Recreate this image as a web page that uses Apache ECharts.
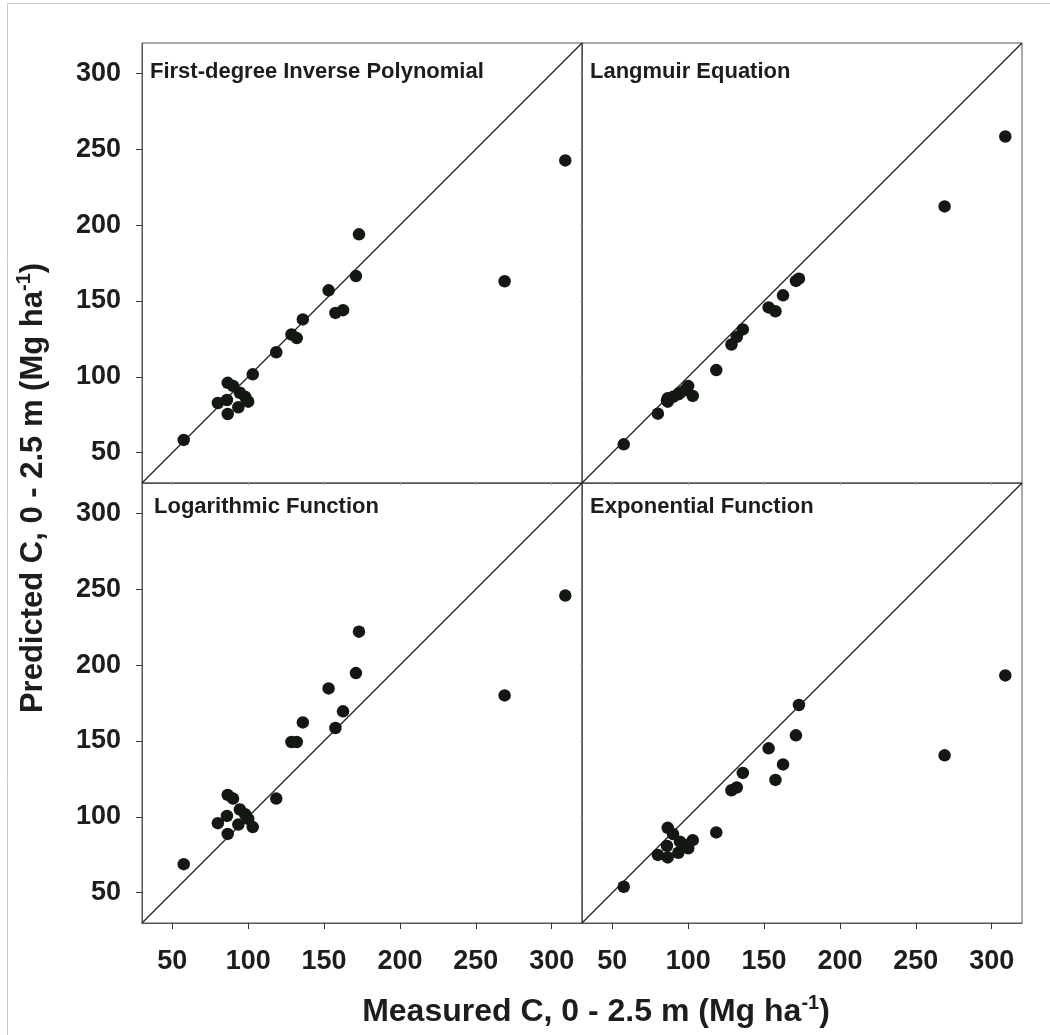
<!DOCTYPE html>
<html>
<head>
<meta charset="utf-8">
<script src="https://cdn.jsdelivr.net/npm/echarts@6/dist/echarts.min.js"></script>
<style>
  html, body { margin: 0; padding: 0; background: #fff; }
  #chart { width: 1050px; height: 1035px; }
</style>
</head>
<body>
<div id="chart"></div>
<script>
// measured carbon (x), shared by all four panels
var measured = [57.5, 80, 86.5, 86, 86.5, 90, 93.5, 94.5, 98, 100, 103, 118.5, 128.5, 132, 136, 153, 157.5, 162.5, 171, 173, 269, 309];

// predicted carbon for each model
var inversePoly = [58.4, 82.7, 75.5, 84.7, 96, 94, 79.9, 89.5, 86.8, 83.6, 101.6, 116.2, 127.9, 125.5, 137.8, 157, 142.1, 143.9, 166.4, 193.9, 163, 242.6];
var langmuir = [55.5, 75.7, 83.6, 84.5, 85.8, 86.8, 88.5, 89.5, 91.2, 93.9, 87.4, 104.4, 121.3, 126.3, 131.2, 145.7, 143.2, 153.7, 163.2, 164.7, 212.3, 258.4];
var logarithmic = [68.8, 95.8, 88.7, 100.6, 114.4, 112, 94.9, 104.8, 101.7, 98.6, 93.2, 112, 149.3, 149.3, 162.2, 184.6, 158.5, 169.5, 194.7, 222, 180, 245.8];
var exponential = [53.9, 74.9, 73.2, 80.8, 92.7, 88.6, 76.3, 83.6, 81.4, 79.2, 84.6, 89.7, 117.5, 119.3, 128.9, 145.1, 124.3, 134.5, 153.7, 173.7, 140.5, 193.2];

var panelNames = ['First-degree Inverse Polynomial', 'Langmuir Equation', 'Logarithmic Function', 'Exponential Function'];
var tickValues = [50, 100, 150, 200, 250, 300];
var axisRange = [30, 320];   // 1:1 line runs corner to corner

var font = '"Liberation Sans", Arial, sans-serif';
var ink = '#1b1f1c';

var panels = [inversePoly, langmuir, logarithmic, exponential];
var gridPos = [
    { left: 142, top: 43 },
    { left: 582, top: 43 },
    { left: 142, top: 483 },
    { left: 582, top: 483 }
];

function makeAxis(i, outer) {
    return {
        type: 'value',
        gridIndex: i,
        min: axisRange[0],
        max: axisRange[1],
        axisLine: { show: true, lineStyle: { color: '#555', width: 1 } },
        axisTick: {
            show: true,
            customValues: tickValues,
            length: outer ? 6 : 2,
            lineStyle: { color: outer ? '#333' : '#aaa' }
        },
        axisLabel: {
            show: outer,
            customValues: tickValues,
            fontSize: 27,
            fontWeight: 'bold',
            fontFamily: font,
            color: ink
        },
        splitLine: { show: false }
    };
}

var grids = [], xAxes = [], yAxes = [], series = [], titles = [];

panels.forEach(function (vals, i) {
    grids.push({
        left: gridPos[i].left, top: gridPos[i].top, width: 440, height: 440,
        show: true, borderColor: '#555', borderWidth: 1
    });

    var xa = makeAxis(i, i >= 2);
    xa.axisLabel.margin = 25;
    xAxes.push(xa);

    var ya = makeAxis(i, i % 2 === 0);
    ya.axisLabel.margin = 21;
    yAxes.push(ya);

    // 1:1 line
    series.push({
        type: 'line',
        xAxisIndex: i, yAxisIndex: i,
        data: [[axisRange[0], axisRange[0]], [axisRange[1], axisRange[1]]],
        symbol: 'none',
        silent: true,
        lineStyle: { color: '#222', width: 1.2 },
        z: 1
    });

    series.push({
        type: 'scatter',
        name: panelNames[i],
        xAxisIndex: i, yAxisIndex: i,
        data: measured.map(function (m, k) { return [m, vals[k]]; }),
        symbolSize: 12.5,
        itemStyle: { color: '#131813', opacity: 1 },
        z: 2
    });

    titles.push({
        text: panelNames[i],
        left: gridPos[i].left + (i === 2 ? 12 : 8),
        top: gridPos[i].top + (i >= 2 ? 13 : 18),
        padding: 0,
        textStyle: { fontSize: 22, fontWeight: 'bold', fontFamily: font, color: ink }
    });
});

function titleRich(size) {
    return {
        a: { fontSize: size, fontWeight: 'bold', fontFamily: font, fill: ink, lineHeight: size + 6 },
        sup: { fontSize: Math.round(size * 0.63), fontWeight: 'bold', fontFamily: font, fill: ink, lineHeight: size + 6, verticalAlign: 'top' }
    };
}

var option = {
    animation: false,
    backgroundColor: '#fff',
    title: titles,
    grid: grids,
    xAxis: xAxes,
    yAxis: yAxes,
    series: series,
    graphic: [
        {
            type: 'rect',
            shape: { x: 7.5, y: 3.5, width: 1200, height: 1200 },
            style: { fill: 'none', stroke: '#c8c8c8', lineWidth: 1 },
            silent: true, z: -10
        },
        {
            type: 'text',
            x: 596, y: 1012,
            style: {
                text: '{a|Measured C, 0 - 2.5 m (Mg ha}{sup|-1}{a|)}',
                rich: titleRich(32),
                align: 'center',
                verticalAlign: 'middle'
            }
        },
        {
            type: 'text',
            x: 33, y: 488,
            rotation: Math.PI / 2,
            style: {
                text: '{a|Predicted C, 0 - 2.5 m (Mg ha}{sup|-1}{a|)}',
                rich: titleRich(31),
                align: 'center',
                verticalAlign: 'middle'
            }
        }
    ]
};

echarts.init(document.getElementById('chart')).setOption(option);
</script>
</body>
</html>
